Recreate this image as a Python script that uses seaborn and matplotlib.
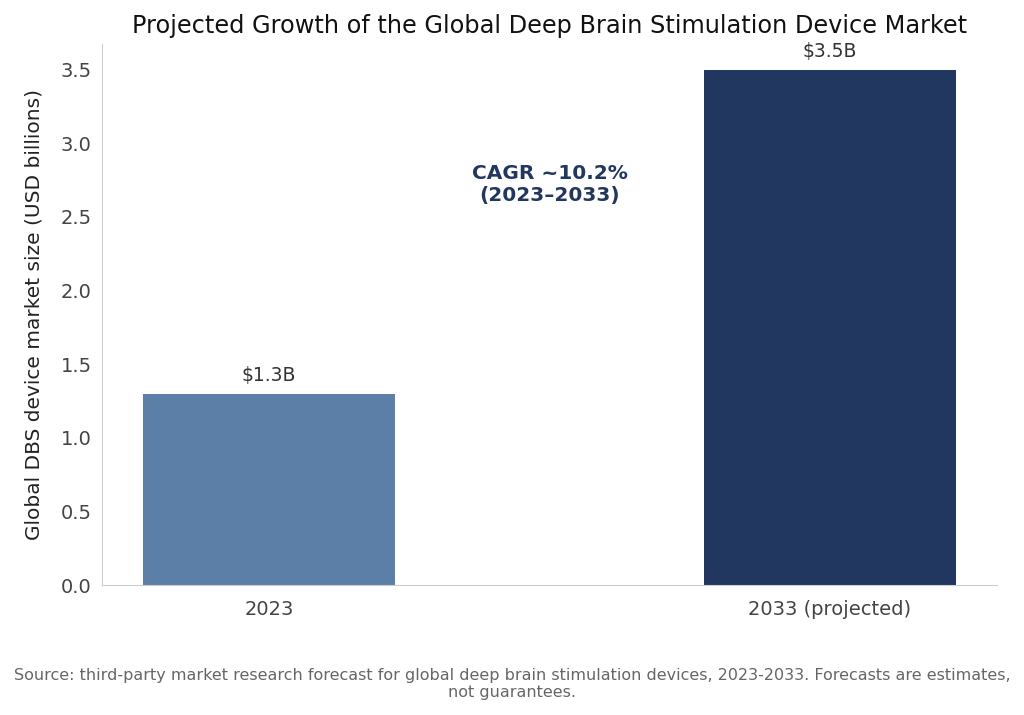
import matplotlib
matplotlib.use("Agg")
import matplotlib.pyplot as plt
import seaborn as sns
import pandas as pd

categories = ["2023", "2033 (projected)"]
values = [1.3, 3.5]
labels = ["$1.3B", "$3.5B"]
colors = ["#5B7FA6", "#22375F"]

sns.set_style("white")
plt.rcParams['font.family'] = ['DejaVu Sans']

df = pd.DataFrame({"year": categories, "size": values})
fig, ax = plt.subplots(figsize=(10.24, 7.15), dpi=100)
sns.barplot(data=df, x="year", y="size", hue="year", palette=colors, width=0.45,
            legend=False, ax=ax, saturation=1, linewidth=0)

for i, (v, lab) in enumerate(zip(values, labels)):
    ax.annotate(lab, (i, v), xytext=(0, 6), textcoords="offset points",
                ha="center", va="bottom", fontsize=13.5, color="#333333")

ax.text(0.5, 2.72, "CAGR ~10.2%\n(2023–2033)", ha="center", va="center",
        fontsize=14.5, fontweight="bold", color="#22375F", linespacing=1.2)

ax.set_xlim(-0.2975, 1.2975)
ax.set_ylim(0, 3.675)
ax.set_xlabel("")
ax.set_ylabel("Global DBS device market size (USD billions)", fontsize=14.5,
              color="#222222", labelpad=12)
ax.set_title("Projected Growth of the Global Deep Brain Stimulation Device Market",
             fontsize=17.3, color="#111111", pad=8)
ax.tick_params(axis="both", labelsize=14, colors="#444444", length=4, color="#bbbbbb")
ax.tick_params(axis="x", pad=7)
for s in ["top", "right"]:
    ax.spines[s].set_visible(False)
for s in ["left", "bottom"]:
    ax.spines[s].set_color("#cccccc")

fig.text(0.5, 0.043, "Source: third-party market research forecast for global deep brain stimulation devices, 2023-2033. Forecasts are estimates,\nnot guarantees.",
         ha="center", va="center", fontsize=11.5, color="#666666")

fig.subplots_adjust(left=0.0996, right=0.9736, top=0.9385, bottom=0.1818)
fig.savefig("out.png", dpi=100)
